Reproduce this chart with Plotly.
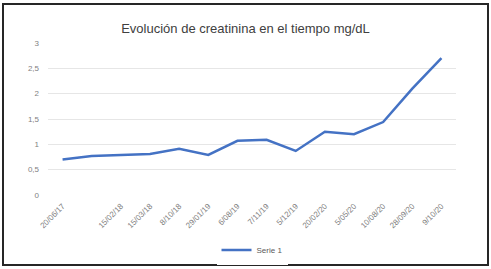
import plotly.graph_objects as go

fechas = ["20/06/17", " ", "15/02/18", "15/03/18", "8/10/18", "29/01/19", "6/08/19",
          "7/11/19", "5/12/19", "20/02/20", "5/05/20", "10/08/20", "28/09/20", "9/10/20"]
creatinina = [0.70, 0.77, 0.79, 0.81, 0.91, 0.79, 1.07, 1.09, 0.87, 1.25, 1.20, 1.44, 2.10, 2.70]
y_ticks = [0, 0.5, 1, 1.5, 2, 2.5, 3]
y_labels = ["0", "0,5", "1", "1,5", "2", "2,5", "3"]

W, H = 491, 269
L, R, T, B = 48, 35, 43, 74
pw, ph = W - L - R, H - T - B

def px_x(x):
    return (x - L) / pw

def px_y(y):
    return (H - B - y) / ph

fig = go.Figure()
fig.add_trace(go.Scatter(
    x=fechas, y=creatinina, mode="lines", name="Serie 1",
    line=dict(color="#4472C4", width=2.5),
))

fig.update_layout(
    width=W, height=H,
    margin=dict(l=L, r=R, t=T, b=B, autoexpand=False),
    paper_bgcolor="white", plot_bgcolor="white",
    font=dict(family="Liberation Sans, Arial, sans-serif", color="#595959"),
    title=dict(text="Evolución de creatinina en el tiempo mg/dL",
               x=0.5, xanchor="center", xref="container", y=1 - 28 / H, yanchor="middle",
               font=dict(size=13, color="#404040")),
    showlegend=True,
    legend=dict(orientation="h", x=0.5, xanchor="center", y=px_y(250), yanchor="middle",
                font=dict(size=8, color="#595959")),
    xaxis=dict(type="category", tickangle=-45, tickfont=dict(size=8, color="#7f7f7f"),
               showgrid=False, showline=False, ticks="", automargin=False,
               ticklabelstandoff=4, range=[-0.5, len(fechas) - 0.5]),
    yaxis=dict(range=[0, 3], tickvals=y_ticks, ticktext=y_labels,
               tickfont=dict(size=8, color="#7f7f7f"), automargin=False,
               showgrid=True, gridcolor="#e6e6e6", gridwidth=1, zeroline=False,
               showline=False, ticks="", ticklabelstandoff=8),
    shapes=[dict(type="rect", xref="paper", yref="paper",
                 x0=px_x(3), x1=px_x(488), y0=px_y(265), y1=px_y(4),
                 line=dict(color="#262626", width=2), fillcolor="rgba(0,0,0,0)", layer="above")],
)

fig.write_html("out.html", config={"displayModeBar": False},
               post_script="document.body.style.margin='0';document.body.style.padding='0';")
